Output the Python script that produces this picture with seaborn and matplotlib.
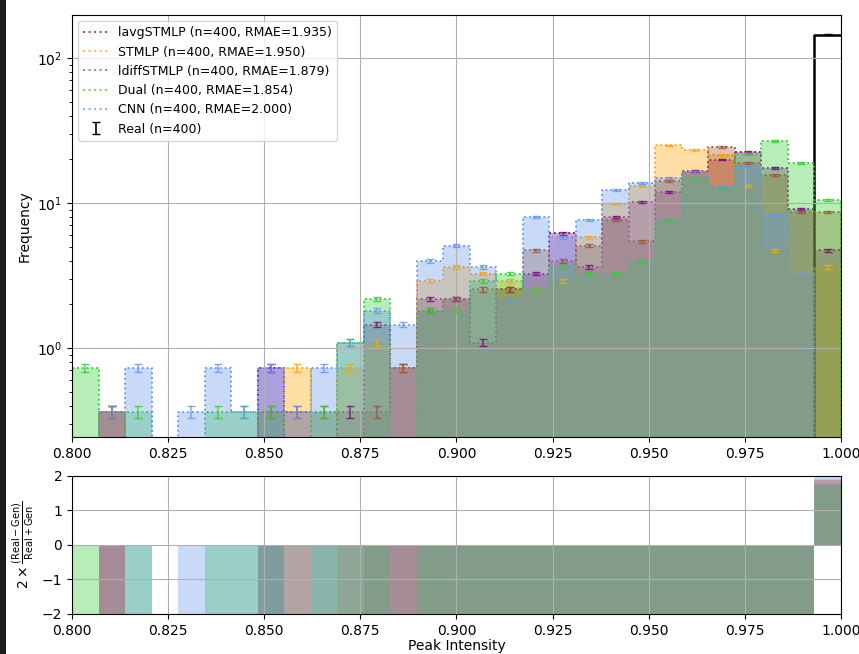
import numpy as np
import matplotlib
matplotlib.use("Agg")
import matplotlib.pyplot as plt
from matplotlib.lines import Line2D
from matplotlib.patches import Rectangle
from matplotlib.ticker import FormatStrFormatter
import seaborn as sns

# Histogram binning and sample size
x_min, x_max, n_bins = 0.8, 1.0, 29
n_samples = 400

model_names = ["lavgSTMLP", "STMLP", "ldiffSTMLP", "Dual", "CNN"]
model_rmae = [1.935, 1.950, 1.879, 1.854, 2.000]
model_colors = ["purple", "orange", "sienna", "limegreen", "cornflowerblue"]

# Counts per bin (29 bins from 0.8 to 1.0)
counts_lavgstmlp = [0, 1, 0, 0, 0, 0, 0, 2, 0, 0, 1, 4, 2, 6, 6, 3, 7, 9, 17, 10,
                    22, 28, 33, 46, 55, 62, 48, 25, 13]
counts_stmlp = [0, 1, 0, 0, 0, 0, 0, 0, 2, 0, 2, 3, 2, 8, 10, 9, 8, 7, 8, 16,
                27, 36, 69, 64, 59, 36, 13, 9, 10]
counts_ldiffstmlp = [0, 1, 0, 0, 0, 0, 0, 1, 1, 1, 0, 1, 2, 5, 6, 7, 7, 13, 11, 14,
                     21, 15, 39, 45, 67, 52, 43, 24, 24]
counts_dual = [2, 0, 1, 0, 0, 1, 1, 1, 0, 1, 3, 6, 0, 5, 5, 8, 9, 7, 10, 9,
               9, 11, 21, 41, 35, 60, 74, 52, 29]
counts_cnn = [0, 1, 2, 0, 1, 2, 1, 2, 1, 2, 3, 5, 4, 11, 14, 10, 6, 22, 16, 21,
              34, 38, 41, 45, 36, 50, 23, 9, 0]
counts_real = [0, 0, 0, 0, 0, 0, 0, 0, 0, 0, 0, 0, 0, 0, 0, 0, 0, 0, 0, 0,
               0, 0, 0, 0, 0, 0, 0, 0, 400]

model_counts = [counts_lavgstmlp, counts_stmlp, counts_ldiffstmlp, counts_dual, counts_cnn]

edges = np.linspace(x_min, x_max, n_bins + 1)
width = edges[1] - edges[0]
centers = 0.5 * (edges[:-1] + edges[1:])
scale = 1.0 / (n_samples * width)   # counts -> density
err_frac = 0.09                      # relative size of the per-bin error bars
hist_kw = dict(bins=n_bins, binrange=(x_min, x_max), element="step")

fig = plt.figure(figsize=(8.59, 6.54), dpi=100)
# dark window edge on the left
fig.patches.append(Rectangle((0, 0), 6 / 859, 1, transform=fig.transFigure,
                             facecolor="#1e1e1e", edgecolor="none", zorder=-10))
ax = fig.add_axes([0.0838, 0.3318, 0.8952, 0.6452])
ax_r = fig.add_axes([0.0838, 0.0612, 0.8952, 0.2110])
ax.set_yscale("log")

# Real distribution (drawn underneath the generated fills)
real_counts = np.array(counts_real, dtype=float)
real_d = real_counts * scale
sns.histplot(x=centers, weights=real_d, fill=False, color="black",
             linewidth=1.8, zorder=0.9, ax=ax, **hist_kw)
m = real_counts > 0
real_eb = ax.errorbar(centers[m], real_d[m], yerr=np.sqrt(real_counts[m]) * scale * err_frac,
                      fmt="none", ecolor="black", capsize=3, elinewidth=1.2,
                      label=f"Real (n={n_samples})")

handles, labels = [], []
for name, r, col, cnt in zip(model_names, model_rmae, model_colors, model_counts):
    cnt = np.array(cnt, dtype=float)
    d = cnt * scale
    sns.histplot(x=centers, weights=d, fill=True, alpha=0.35, color=col,
                 linestyle=":", linewidth=1.3, ax=ax, **hist_kw)
    mk = cnt > 0
    ax.errorbar(centers[mk], d[mk], yerr=np.sqrt(cnt[mk]) * scale * err_frac,
                fmt="none", ecolor=col, capsize=3, elinewidth=1.1, alpha=0.8)
    handles.append(Line2D([], [], color=col, linestyle=":", linewidth=1.5, alpha=0.7))
    labels.append(f"{name} (n={n_samples}, RMAE={r:.3f})")

    # relative difference panel
    tot = real_d + d
    ratio = np.divide(2 * (real_d - d), tot, out=np.zeros_like(tot), where=tot > 0)
    sns.histplot(x=centers, weights=ratio, fill=True, alpha=0.35, color=col,
                 linewidth=0, ax=ax_r, **hist_kw)

handles.append(real_eb)
labels.append(f"Real (n={n_samples})")
ax.legend(handles, labels, loc="upper left", fontsize=9, framealpha=0.8)

ax.set_xlim(x_min, x_max)
ax.set_ylim(0.243, 198)
ax.set_xlabel("")
ax.set_ylabel("Frequency")
ax.grid(True)

ax_r.set_xlim(x_min, x_max)
ax_r.set_ylim(-2, 2)
ax_r.set_yticks([-2, -1, 0, 1, 2])
ax_r.set_xlabel("Peak Intensity", labelpad=1)
ax_r.set_ylabel(r"$2\times\frac{(\mathrm{Real}-\mathrm{Gen})}{\mathrm{Real}+\mathrm{Gen}}$")
ax_r.grid(True)

for a in (ax, ax_r):
    a.set_xticks(np.arange(0.8, 1.0001, 0.025))
    a.xaxis.set_major_formatter(FormatStrFormatter("%.3f"))

fig.savefig("out.png", dpi=100)
